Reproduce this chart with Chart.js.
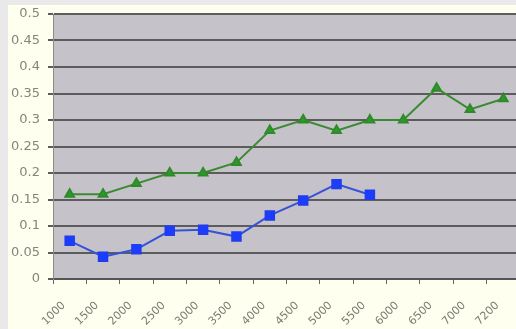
<!DOCTYPE html>
<html>
<head>
<meta charset="utf-8">
<script src="https://cdn.jsdelivr.net/npm/chart.js@4/dist/chart.umd.min.js"></script>
<style>
  html, body { margin: 0; padding: 0; background: #e9e9e9; overflow: hidden; width: 516px; height: 329px; }
  #wrap { position: absolute; left: 8px; top: 5px; width: 520px; height: 324px; background: #fffff0; }
  canvas { display: block; }
</style>
</head>
<body>
<div id="wrap"><canvas id="c" width="520" height="324"></canvas></div>
<script>
const categories = ['1000', '1500', '2000', '2500', '3000', '3500', '4000', '4500', '5000', '5500', '6000', '6500', '7000', '7200'];
const greenSeries = [0.16, 0.16, 0.18, 0.20, 0.20, 0.22, 0.28, 0.30, 0.28, 0.30, 0.30, 0.36, 0.32, 0.34];
const blueSeries = [0.072, 0.042, 0.056, 0.091, 0.093, 0.080, 0.120, 0.148, 0.179, 0.159];
const yTicks = [0, 0.05, 0.1, 0.15, 0.2, 0.25, 0.3, 0.35, 0.4, 0.45, 0.5];

// gray plot panel behind the grid
const plotBackground = {
  id: 'plotBackground',
  beforeDraw(chart) {
    const { ctx, chartArea: a } = chart;
    ctx.save();
    ctx.fillStyle = '#c6c2c9';
    ctx.fillRect(a.left, a.top, a.right - a.left, a.bottom - a.top);
    ctx.restore();
  }
};

new Chart(document.getElementById('c'), {
  type: 'line',
  data: {
    labels: categories,
    datasets: [
      {
        data: greenSeries,
        borderColor: '#3b8a32',
        backgroundColor: '#2f9a2a',
        pointBorderColor: '#2f8a2a',
        borderWidth: 2,
        pointStyle: 'triangle',
        pointRadius: 5,
        tension: 0
      },
      {
        data: blueSeries,
        borderColor: '#3553d6',
        backgroundColor: '#1e3cff',
        pointBorderColor: '#1e3cf0',
        borderWidth: 2,
        pointStyle: 'rect',
        pointRadius: 6,
        tension: 0
      }
    ]
  },
  options: {
    responsive: false,
    animation: false,
    layout: { padding: { top: 9, right: 0, left: 0, bottom: 0 } },
    plugins: { legend: { display: false }, tooltip: { enabled: false } },
    scales: {
      x: {
        offset: true,
        grid: { offset: true, drawOnChartArea: false, drawTicks: true, tickLength: 5, color: '#666', lineWidth: 1 },
        border: { color: '#555', width: 2 },
        ticks: {
          minRotation: 45, maxRotation: 45, autoSkip: false, padding: 15, labelOffset: -6,
          color: '#7a7a72', font: { family: 'DejaVu Sans', size: 11 }
        },
        afterFit(scale) { scale.height = 50; }
      },
      y: {
        min: 0, max: 0.5,
        afterBuildTicks(scale) { scale.ticks = yTicks.map(v => ({ value: v })); },
        grid: { color: '#5c5c5c', lineWidth: 2, tickLength: 5, drawTicks: true },
        border: { color: '#8a8a8a', width: 1 },
        ticks: {
          padding: 8, color: '#85857d', font: { family: 'DejaVu Sans', size: 13 },
          callback: v => String(Math.round(v * 100) / 100)
        },
        afterFit(scale) { scale.width = 45; scale.paddingTop = 0; scale.paddingBottom = 0; }
      }
    }
  },
  plugins: [plotBackground]
});
</script>
</body>
</html>
